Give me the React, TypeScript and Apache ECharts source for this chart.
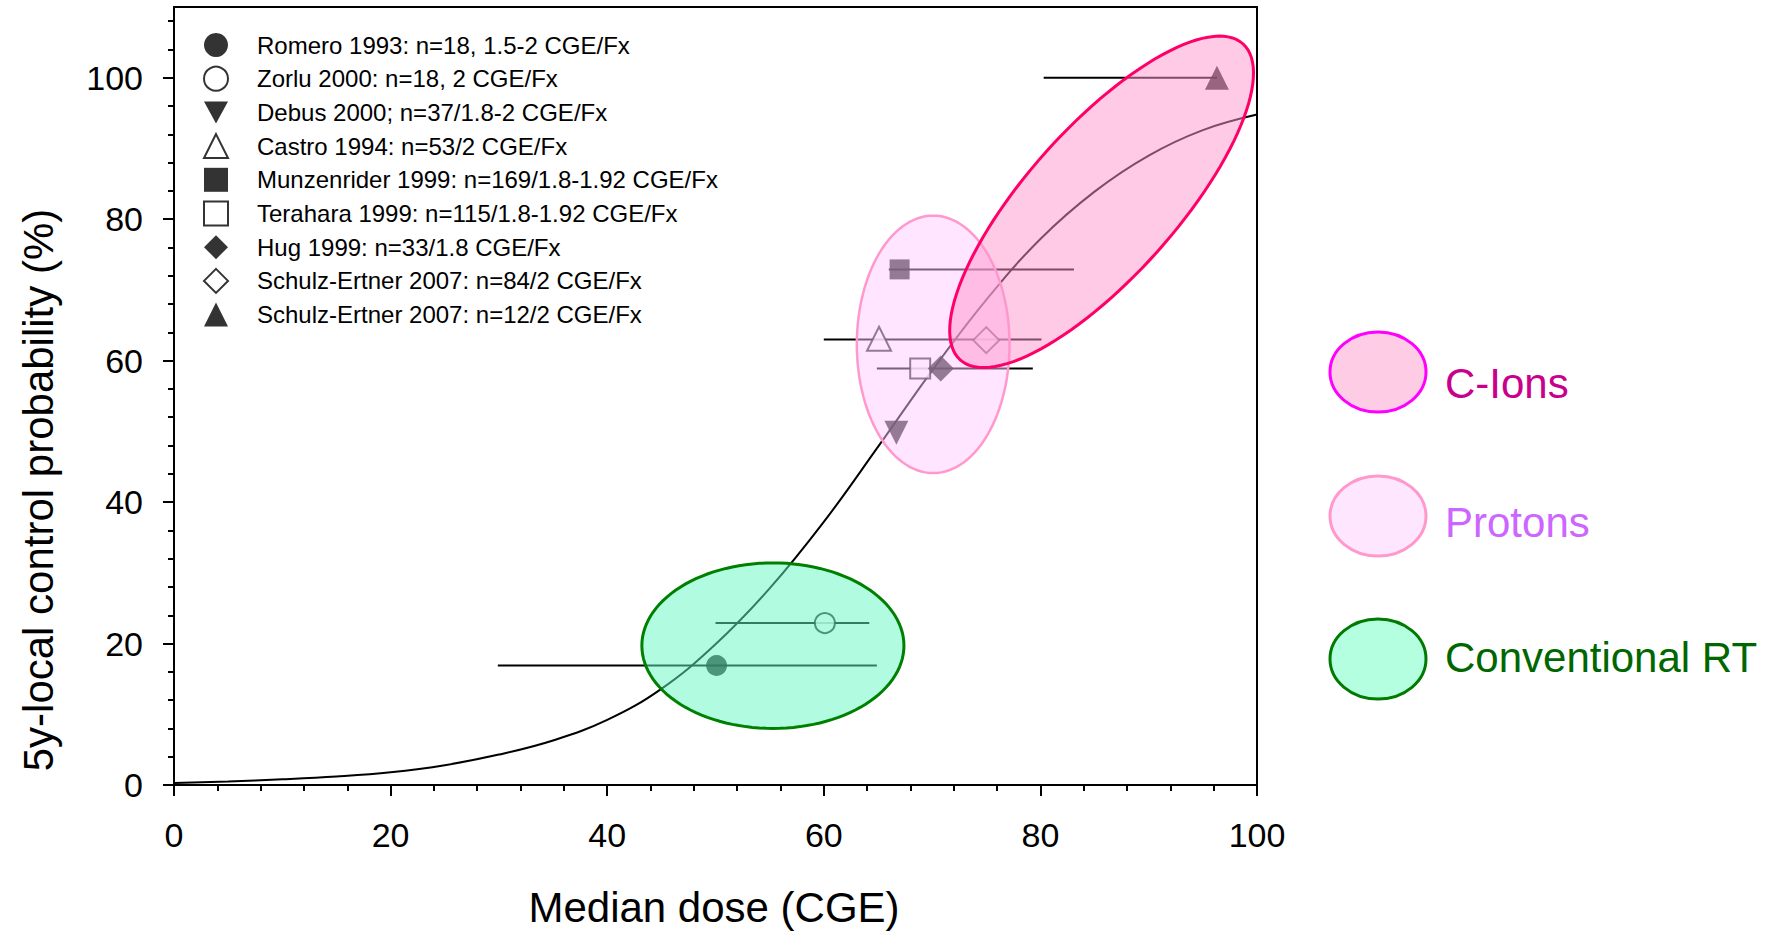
import React, { useEffect, useRef } from "react";
import * as echarts from "echarts";

const FONT = "Liberation Sans, Arial, sans-serif";

// Studies (legend labels) and their points
const studies = [
  "Romero 1993: n=18, 1.5-2 CGE/Fx",
  "Zorlu 2000: n=18, 2 CGE/Fx",
  "Debus 2000; n=37/1.8-2 CGE/Fx",
  "Castro 1994: n=53/2 CGE/Fx",
  "Munzenrider 1999: n=169/1.8-1.92 CGE/Fx",
  "Terahara 1999: n=115/1.8-1.92 CGE/Fx",
  "Hug 1999: n=33/1.8 CGE/Fx",
  "Schulz-Ertner 2007: n=84/2 CGE/Fx",
  "Schulz-Ertner 2007: n=12/2 CGE/Fx",
];
const doses = [50.1, 60.1, 66.7, 65.1, 67.0, 68.9, 70.8, 75.0, 96.3];
const control = [16.9, 22.9, 49.8, 63.1, 72.9, 58.9, 58.9, 62.9, 100];
const symbols = ["circle", "circle", "triangle", "triangle", "rect", "rect", "diamond", "diamond", "triangle"];
const filled = [true, false, true, false, true, false, true, false, true];
const rotations = [0, 0, 180, 0, 0, 0, 0, 0, 0];
const symbolSizes = [21, 20, 24, 24, 20, 20, 26, 26, 24];

// Horizontal dose ranges
const errY = [16.9, 22.9, 63.0, 72.9, 58.9, 100];
const errLow = [29.9, 50.0, 60.0, 66.0, 64.9, 80.3];
const errHigh = [64.9, 64.2, 80.1, 83.1, 79.3, 96.3];

// Dose-response curve
const curveDose = [0, 5, 10, 15, 20, 25, 30, 35, 40, 45, 50, 55, 60, 65, 70, 75, 80, 85, 90, 95, 100];
const curveProb = [0.3, 0.5, 0.8, 1.2, 1.8, 2.8, 4.3, 6.3, 9.2, 13.6, 19.9, 27.8, 37.2, 47.8, 58.6, 68.6, 77.2, 83.9, 89.0, 92.6, 94.8];

// Ticks
const xTicksMajor = [0, 20, 40, 60, 80, 100];
const xTicksMinor = [4, 8, 12, 16, 24, 28, 32, 36, 44, 48, 52, 56, 64, 68, 72, 76, 84, 88, 92, 96];
const yTicksMajor = [0, 20, 40, 60, 80, 100];
const yTicksMinor = [4, 8, 12, 16, 24, 28, 32, 36, 44, 48, 52, 56, 64, 68, 72, 76, 84, 88, 92, 96, 104, 108];

// Region ellipses (data units)
const rtEllipse = [55.3, 19.7, 12.1, 11.7]; // cx, cy, rx, ry
const protonEllipse = [70.1, 62.3, 7.05, 18.2];
const ionEllipse = [72.6, 60.1, 98.7, 104.8, 6.9]; // tip1 x,y ; tip2 x,y ; half-width (x units)

const regionNames = ["C-Ions", "Protons", "Conventional RT"];
const regionTextColors = ["#c8008c", "#cc66ff", "#006600"];
const regionFills = ["#ffcce6", "#ffe6ff", "#b3ffe0"];
const regionStrokes = ["#ff00ff", "#ff99cc", "#007a00"];

function ellipsePoints(cx: number, cy: number, a: number, b: number, phi: number) {
  const pts: number[][] = [];
  const N = 120;
  for (let i = 0; i <= N; i++) {
    const t = (2 * Math.PI * i) / N;
    const ca = a * Math.cos(t);
    const sb = b * Math.sin(t);
    pts.push([cx + ca * Math.cos(phi) - sb * Math.sin(phi), cy + ca * Math.sin(phi) + sb * Math.cos(phi)]);
  }
  return pts;
}

export default function App() {
  const ref = useRef<HTMLDivElement>(null);
  useEffect(() => {
    if (!ref.current) return;
    const chart = echarts.init(ref.current, null, { renderer: "svg" });

    const scatterSeries = studies.map((name, i) => ({
      name,
      type: "scatter",
      data: [[doses[i], control[i]]],
      symbol: symbols[i],
      symbolSize: symbolSizes[i],
      symbolRotate: rotations[i],
      itemStyle: filled[i]
        ? { color: "#000", borderWidth: 0 }
        : { color: "#fff", borderColor: "#000", borderWidth: 2 },
      z: 4,
      silent: true,
    }));

    const legendData = studies.map((name, i) =>
      rotations[i] === 180
        ? { name, icon: "path://M0,0 L12,0 L6,11 Z", itemStyle: { color: "#000", borderWidth: 0 } }
        : { name }
    );

    const axisLineStyle = { color: "#000", width: 2 };

    const option: any = {
      animation: false,
      backgroundColor: "#fff",
      grid: {
        left: 174,
        right: 520,
        top: 7,
        bottom: 146,
        show: true,
        borderColor: "#000",
        borderWidth: 2,
        backgroundColor: "transparent",
      },
      xAxis: [
        {
          type: "value",
          min: 0,
          max: 100,
          interval: 20,
          position: "bottom",
          axisLine: { lineStyle: axisLineStyle },
          axisTick: { length: 11, lineStyle: { color: "#000", width: 2 }, customValues: xTicksMajor },
          axisLabel: { customValues: xTicksMajor, fontSize: 34, color: "#000", margin: 33, fontFamily: FONT },
          splitLine: { show: false },
        },
        {
          type: "value",
          min: 0,
          max: 100,
          interval: 4,
          position: "bottom",
          axisLine: { show: false },
          axisTick: { length: 6, lineStyle: { color: "#000", width: 2 }, customValues: xTicksMinor },
          axisLabel: { show: false },
          splitLine: { show: false },
        },
      ],
      yAxis: [
        {
          type: "value",
          min: 0,
          max: 110,
          interval: 20,
          position: "left",
          axisLine: { lineStyle: axisLineStyle },
          axisTick: { length: 11, lineStyle: { color: "#000", width: 2 }, customValues: yTicksMajor },
          axisLabel: { customValues: yTicksMajor, fontSize: 34, color: "#000", margin: 31, fontFamily: FONT },
          splitLine: { show: false },
        },
        {
          type: "value",
          min: 0,
          max: 110,
          interval: 4,
          position: "left",
          axisLine: { show: false },
          axisTick: { length: 6, lineStyle: { color: "#000", width: 2 }, customValues: yTicksMinor },
          axisLabel: { show: false },
          splitLine: { show: false },
        },
      ],
      legend: {
        orient: "vertical",
        left: 198,
        top: 28,
        itemWidth: 24,
        itemHeight: 24,
        itemGap: 8.7,
        selectedMode: false,
        data: legendData,
        textStyle: { fontSize: 24, color: "#000", fontFamily: FONT, padding: [0, 0, 0, 24] },
      },
      series: [
        {
          name: "curve",
          type: "line",
          data: curveDose.map((d, i) => [d, curveProb[i]]),
          smooth: 0.4,
          showSymbol: false,
          lineStyle: { color: "#000", width: 2 },
          z: 1,
          silent: true,
        },
        {
          name: "ranges",
          type: "custom",
          data: errY.map((y, i) => [errLow[i], errHigh[i], y]),
          renderItem: (params: any, api: any) => {
            const p1 = api.coord([api.value(0), api.value(2)]);
            const p2 = api.coord([api.value(1), api.value(2)]);
            return {
              type: "line",
              shape: { x1: p1[0], y1: p1[1], x2: p2[0], y2: p2[1] },
              style: { stroke: "#000", lineWidth: 2 },
            };
          },
          z: 2,
          silent: true,
        },
        ...scatterSeries,
        {
          name: "rtEllipse",
          type: "custom",
          data: [rtEllipse],
          renderItem: (params: any, api: any) => {
            const c = api.coord([api.value(0), api.value(1)]);
            const rx = api.size([api.value(2), 0])[0];
            const ry = api.size([0, api.value(3)])[1];
            return {
              type: "polygon",
              shape: { points: ellipsePoints(c[0], c[1], rx, ry, 0) },
              style: { fill: "rgba(100,250,195,0.5)", stroke: "#008000", lineWidth: 3 },
            };
          },
          z: 10,
          silent: true,
        },
        {
          name: "protonEllipse",
          type: "custom",
          data: [protonEllipse],
          renderItem: (params: any, api: any) => {
            const c = api.coord([api.value(0), api.value(1)]);
            const rx = api.size([api.value(2), 0])[0];
            const ry = api.size([0, api.value(3)])[1];
            return {
              type: "polygon",
              shape: { points: ellipsePoints(c[0], c[1], rx, ry, 0) },
              style: { fill: "rgba(255,200,255,0.48)", stroke: "#ff99cc", lineWidth: 2.5 },
            };
          },
          z: 10,
          silent: true,
        },
        {
          name: "ionEllipse",
          type: "custom",
          data: [ionEllipse],
          renderItem: (params: any, api: any) => {
            const p1 = api.coord([api.value(0), api.value(1)]);
            const p2 = api.coord([api.value(2), api.value(3)]);
            const b = api.size([api.value(4), 0])[0];
            const cx = (p1[0] + p2[0]) / 2;
            const cy = (p1[1] + p2[1]) / 2;
            const a = Math.hypot(p2[0] - p1[0], p2[1] - p1[1]) / 2;
            const phi = Math.atan2(p2[1] - p1[1], p2[0] - p1[0]);
            return {
              type: "polygon",
              shape: { points: ellipsePoints(cx, cy, a, b, phi) },
              style: { fill: "rgba(255,150,205,0.5)", stroke: "#ff0066", lineWidth: 3 },
            };
          },
          z: 11,
          silent: true,
        },
      ],
      graphic: [
        {
          type: "text",
          x: 38,
          y: 490,
          rotation: Math.PI / 2,
          style: {
            text: "5y-local control probability (%)",
            fontSize: 42,
            fontFamily: FONT,
            fill: "#000",
            align: "center",
            verticalAlign: "middle",
          },
        },
        {
          type: "text",
          x: 714,
          y: 907,
          style: {
            text: "Median dose (CGE)",
            fontSize: 42,
            fontFamily: FONT,
            fill: "#000",
            align: "center",
            verticalAlign: "middle",
          },
        },
        ...regionNames.flatMap((name, i) => {
          const cy = [372, 516, 659][i];
          return [
            {
              type: "ellipse",
              shape: { cx: 1378, cy, rx: 48, ry: 40 },
              style: { fill: regionFills[i], stroke: regionStrokes[i], lineWidth: 3 },
            },
            {
              type: "text",
              x: 1445,
              y: cy + [11, 6, -2][i],
              style: {
                text: name,
                fontSize: 42,
                fontFamily: FONT,
                fill: regionTextColors[i],
                align: "left",
                verticalAlign: "middle",
              },
            },
          ];
        }),
      ],
    };

    chart.setOption(option);
    return () => chart.dispose();
  }, []);

  return (
    <div
      ref={ref}
      style={{ position: "fixed", left: 0, top: 0, width: 1777, height: 931, background: "#fff" }}
    />
  );
}
